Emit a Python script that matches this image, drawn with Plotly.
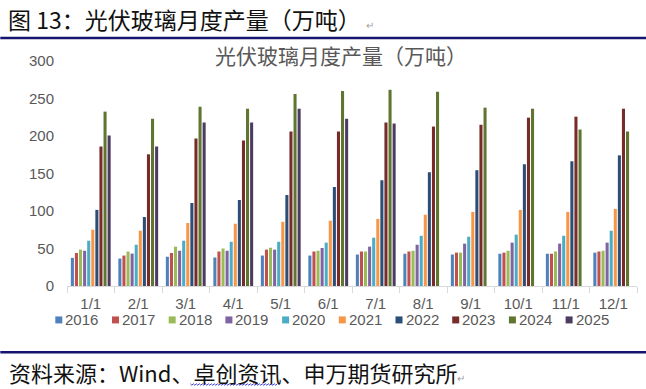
import plotly.graph_objects as go

months = ["1/1", "2/1", "3/1", "4/1", "5/1", "6/1", "7/1", "8/1", "9/1", "10/1", "11/1", "12/1"]
years = ["2016", "2017", "2018", "2019", "2020", "2021", "2022", "2023", "2024", "2025"]

v2016 = [37.5, 36.6, 39.0, 38.0, 40.6, 40.6, 42.0, 43.0, 42.0, 43.0, 43.0, 44.5]
v2017 = [44.0, 40.6, 44.0, 46.0, 48.5, 46.0, 46.0, 46.0, 44.5, 44.5, 43.0, 46.0]
v2018 = [48.5, 45.9, 52.5, 50.0, 51.0, 47.0, 46.0, 47.0, 44.5, 47.0, 46.0, 47.0]
v2019 = [47.0, 43.2, 47.0, 47.0, 48.5, 50.7, 52.5, 55.0, 56.5, 57.8, 56.5, 57.8]
v2020 = [60.4, 55.0, 60.4, 59.0, 59.0, 57.8, 64.4, 67.0, 65.7, 68.4, 67.0, 73.7]
v2021 = [75.0, 73.7, 84.0, 83.0, 85.6, 87.0, 89.5, 95.0, 98.8, 101.5, 98.8, 102.8]
v2022 = [101.5, 92.0, 110.7, 114.7, 121.3, 132.0, 141.0, 151.7, 154.4, 162.3, 166.3, 174.2]
v2023 = [186.0, 175.6, 196.7, 194.0, 206.0, 206.0, 218.0, 212.6, 215.0, 224.5, 225.8, 236.4]
v2024 = [232.5, 223.0, 239.0, 236.4, 256.0, 260.0, 261.6, 259.0, 237.8, 236.4, 208.6, 206.0]
v2025 = [200.7, 186.0, 218.0, 218.0, 236.4, 223.0, 216.6, None, None, None, None, None]

series = [v2016, v2017, v2018, v2019, v2020, v2021, v2022, v2023, v2024, v2025]
colors = ["#4F81BD", "#C0504D", "#9BBB59", "#8064A2", "#4BACC6",
          "#F79646", "#2C4D75", "#772C2A", "#5F7530", "#4D3B62"]

chart_title = "光伏玻璃月度产量（万吨）"
doc_title = "图 13：光伏玻璃月度产量（万吨）"
source_text = "资料来源：Wind、卓创资讯、申万期货研究所"

W, H = 646, 389
L, R, T, B = 66.7, 636.7, 61.0, 286.5


def px_x(x):
    return (x - L) / (R - L)


def px_y(y):
    return (B - y) / (B - T)


fig = go.Figure()
for name, vals, col in zip(years, series, colors):
    fig.add_trace(go.Bar(x=months, y=vals, name=name, marker_color=col,
                         marker_line_width=0, showlegend=False))

gray = "#595959"
font_lat = "Liberation Sans, Arial, sans-serif"
font_cjk = "Noto Sans CJK SC, sans-serif"

annotations = []
shapes = []

# chart title
annotations.append(dict(x=px_x(341), y=px_y(55), xref="paper", yref="paper",
                        text=chart_title, showarrow=False, xanchor="center",
                        yanchor="middle", font=dict(family=font_cjk, size=21, color=gray)))

# manual legend
leg_y = 320
for i, (name, col) in enumerate(zip(years, colors)):
    x0 = 55 + i * 56.7
    shapes.append(dict(type="rect", xref="paper", yref="paper",
                       x0=px_x(x0), x1=px_x(x0 + 7), y0=px_y(leg_y + 4), y1=px_y(leg_y - 3),
                       fillcolor=col, line_width=0))
    annotations.append(dict(x=px_x(x0 + 8), y=px_y(leg_y), xref="paper", yref="paper",
                            text=name, showarrow=False, xanchor="left", yanchor="middle",
                            font=dict(family=font_lat, size=15, color=gray)))

# document frame lines
navy = "#15156E"
for yy in (38, 353):
    shapes.append(dict(type="line", xref="paper", yref="paper",
                       x0=px_x(0), x1=px_x(W), y0=px_y(yy), y1=px_y(yy),
                       line=dict(color=navy, width=2.5)))

mark = "<span style='font-size:10px;color:#A0A0A0'>↵</span>"
annotations.append(dict(x=px_x(7), y=px_y(19), xref="paper", yref="paper",
                        text=doc_title + " " + mark, showarrow=False, xanchor="left",
                        yanchor="middle", borderpad=0,
                        font=dict(family=font_cjk, size=23, color="#111111")))
annotations.append(dict(x=px_x(8), y=px_y(373), xref="paper", yref="paper",
                        text=source_text + mark, showarrow=False, xanchor="left",
                        yanchor="middle", borderpad=0,
                        font=dict(family=font_cjk, size=22, color="#111111")))

# spell-check style wavy underline under 卓创资讯
wx0, wx1, wy = 190, 278, 385
pts = []
x = wx0
k = 0
while x <= wx1:
    pts.append((px_x(x), px_y(wy + (1 if k % 2 else -0.5))))
    x += 1.5
    k += 1
path = "M " + " L ".join(f"{a:.5f},{b:.5f}" for a, b in pts)
shapes.append(dict(type="path", xref="paper", yref="paper", path=path,
                   line=dict(color="#3A3AD0", width=1)))

fig.update_layout(
    width=W, height=H,
    margin=dict(l=L, r=W - R, t=T, b=H - B, pad=0),
    paper_bgcolor="white", plot_bgcolor="white",
    barmode="group", bargap=0.14, bargroupgap=0.25,
    annotations=annotations, shapes=shapes,
    xaxis=dict(type="category", showline=True, linecolor="#D9D9D9", linewidth=1,
               ticks="outside", tickson="boundaries", ticklen=6, tickcolor="#D9D9D9",
               ticklabelstandoff=4,
               showgrid=False, tickfont=dict(family=font_lat, size=15, color=gray)),
    yaxis=dict(range=[0, 300], dtick=50, showgrid=False, zeroline=False, showline=False,
               ticks="", ticklabelstandoff=12,
               tickfont=dict(family=font_lat, size=15, color=gray)),
)

fig.write_html("out.html", config={"displayModeBar": False},
               post_script="document.body.style.margin='0';document.body.style.overflow='hidden';")
